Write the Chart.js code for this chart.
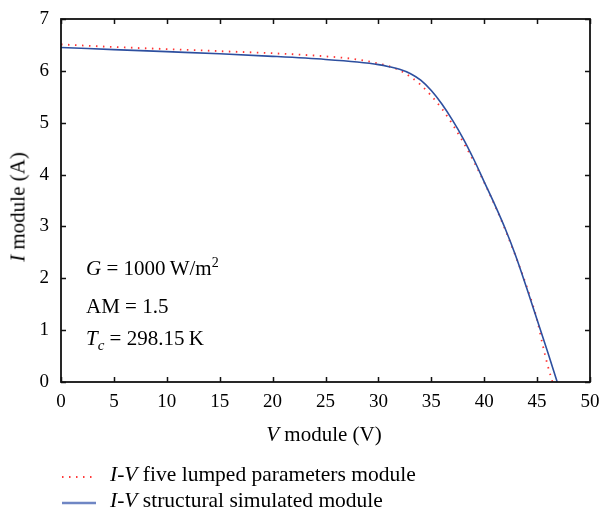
<!DOCTYPE html>
<html>
<head>
<meta charset="utf-8">
<script src="https://cdn.jsdelivr.net/npm/chart.js@4.4.1/dist/chart.umd.min.js"></script>
<style>
  html, body { margin: 0; padding: 0; background: #fff; }
  #wrap { position: relative; width: 602px; height: 510px; font-family: "Liberation Serif", "DejaVu Serif", serif; color: #000; }
  canvas { position: absolute; left: 0; top: 0; }
  .t { position: absolute; font-size: 21px; white-space: nowrap; line-height: 1; }
  .lg { font-size: 21.5px; }
</style>
</head>
<body>
<div id="wrap">
  <canvas id="c" width="602" height="510"></canvas>
  <div class="t" style="left:86px; top:258px;"><i>G</i> = 1000&#8201;W/m<sup style="font-size:14px; vertical-align:8px; line-height:0;">2</sup></div>
  <div class="t" style="left:86px; top:296px;">AM = 1.5</div>
  <div class="t" style="left:86px; top:328px;"><i>T</i><sub style="font-size:15px; vertical-align:-5px; line-height:0;"><i>c</i></sub> = 298.15&#8201;K</div>
  <div class="t" style="left:324px; top:424px; transform:translateX(-50%);"><i>V</i> module (V)</div>
  <div class="t" style="left:18px; top:207px; transform:translate(-50%,-50%) rotate(-90deg);"><i>I</i> module (A)</div>
  <div class="t lg" style="left:110px; top:464px;"><i>I</i>-<i>V</i> five lumped parameters module</div>
  <div class="t lg" style="left:110px; top:490px;"><i>I</i>-<i>V</i> structural simulated module</div>
</div>
<script>
// ---- data ----
const xTicks = [0, 5, 10, 15, 20, 25, 30, 35, 40, 45, 50];
const yTicks = [0, 1, 2, 3, 4, 5, 6, 7];

const vLumped = [0, 5, 10, 15, 20, 25, 28, 30, 31, 32, 33, 34, 35, 36, 37, 38, 39, 40, 41, 42, 43, 44, 45, 45.5, 46, 46.45];
const iLumped = [6.51, 6.46, 6.42, 6.38, 6.34, 6.28, 6.22, 6.14, 6.09, 6.01, 5.89, 5.73, 5.52, 5.27, 4.97, 4.63, 4.26, 3.85, 3.41, 2.93, 2.41, 1.85, 1.20, 0.74, 0.32, 0.0];

const vStruct = [0, 5, 10, 15, 20, 25, 28, 30, 31, 32, 33, 34, 35, 36, 37, 38, 39, 40, 41, 42, 43, 44, 45, 46, 46.9];
const iStruct = [6.45, 6.41, 6.37, 6.33, 6.28, 6.22, 6.17, 6.12, 6.08, 6.03, 5.95, 5.82, 5.62, 5.36, 5.05, 4.70, 4.30, 3.86, 3.42, 2.95, 2.42, 1.82, 1.20, 0.58, 0.0];

const toPts = (xs, ys) => xs.map((x, i) => ({ x: x, y: ys[i] }));

const frameTicks = {
  id: 'frameTicks',
  afterDraw(chart) {
    const ctx = chart.ctx;
    const a = chart.chartArea;
    const xs = chart.scales.x, ys = chart.scales.y;
    const L = 5;
    ctx.save();
    ctx.strokeStyle = '#111';
    ctx.lineWidth = 1.5;
    ctx.beginPath();
    xTicks.forEach(v => {
      const px = Math.round(xs.getPixelForValue(v)) + 0.5;
      ctx.moveTo(px, a.bottom); ctx.lineTo(px, a.bottom - L);
      ctx.moveTo(px, a.top); ctx.lineTo(px, a.top + L);
    });
    yTicks.forEach(v => {
      const py = Math.round(ys.getPixelForValue(v)) + 0.5;
      ctx.moveTo(a.left, py); ctx.lineTo(a.left + L, py);
      ctx.moveTo(a.right, py); ctx.lineTo(a.right - L, py);
    });
    ctx.stroke();
    ctx.lineWidth = 1.8;
    ctx.strokeRect(a.left, a.top, a.right - a.left, a.bottom - a.top);
    // legend samples
    ctx.lineWidth = 1.8;
    ctx.strokeStyle = '#ff3b3b';
    ctx.setLineDash([1.5, 5.5]);
    ctx.beginPath(); ctx.moveTo(62, 477); ctx.lineTo(96, 477); ctx.stroke();
    ctx.setLineDash([]);
    ctx.strokeStyle = '#6f86c4';
    ctx.lineWidth = 2.5;
    ctx.beginPath(); ctx.moveTo(62, 503); ctx.lineTo(96, 503); ctx.stroke();
    ctx.restore();
  }
};

new Chart(document.getElementById('c'), {
  type: 'line',
  data: {
    datasets: [
      {
        label: 'I-V structural simulated module',
        data: toPts(vStruct, iStruct),
        borderColor: '#2d4f9f',
        borderWidth: 1.6,
        pointRadius: 0,
        cubicInterpolationMode: 'monotone',
        fill: false
      },
      {
        label: 'I-V five lumped parameters module',
        data: toPts(vLumped, iLumped),
        borderColor: '#ff3333',
        borderWidth: 1.8,
        borderDash: [1.5, 5.5],
        pointRadius: 0,
        cubicInterpolationMode: 'monotone',
        fill: false
      }
    ]
  },
  options: {
    responsive: false,
    animation: false,
    layout: { padding: { top: 19, right: 12, left: 0, bottom: 0 } },
    plugins: { legend: { display: false }, tooltip: { enabled: false } },
    scales: {
      x: {
        type: 'linear', min: 0, max: 50,
        afterFit(s) { s.height = 128; s.paddingLeft = 0; s.paddingRight = 0; },
        afterBuildTicks(s) { s.ticks = xTicks.map(v => ({ value: v })); },
        grid: { display: false, drawTicks: false },
        border: { display: false },
        ticks: { color: '#000', padding: 9, maxRotation: 0, font: { family: 'Liberation Serif', size: 19 } }
      },
      y: {
        type: 'linear', min: 0, max: 7,
        afterFit(s) { s.width = 61; s.paddingTop = 0; s.paddingBottom = 0; },
        afterBuildTicks(s) { s.ticks = yTicks.map(v => ({ value: v })); },
        grid: { display: false, drawTicks: false },
        border: { display: false },
        ticks: { color: '#000', padding: 12, font: { family: 'Liberation Serif', size: 19 } }
      }
    }
  },
  plugins: [frameTicks]
});
</script>
</body>
</html>
